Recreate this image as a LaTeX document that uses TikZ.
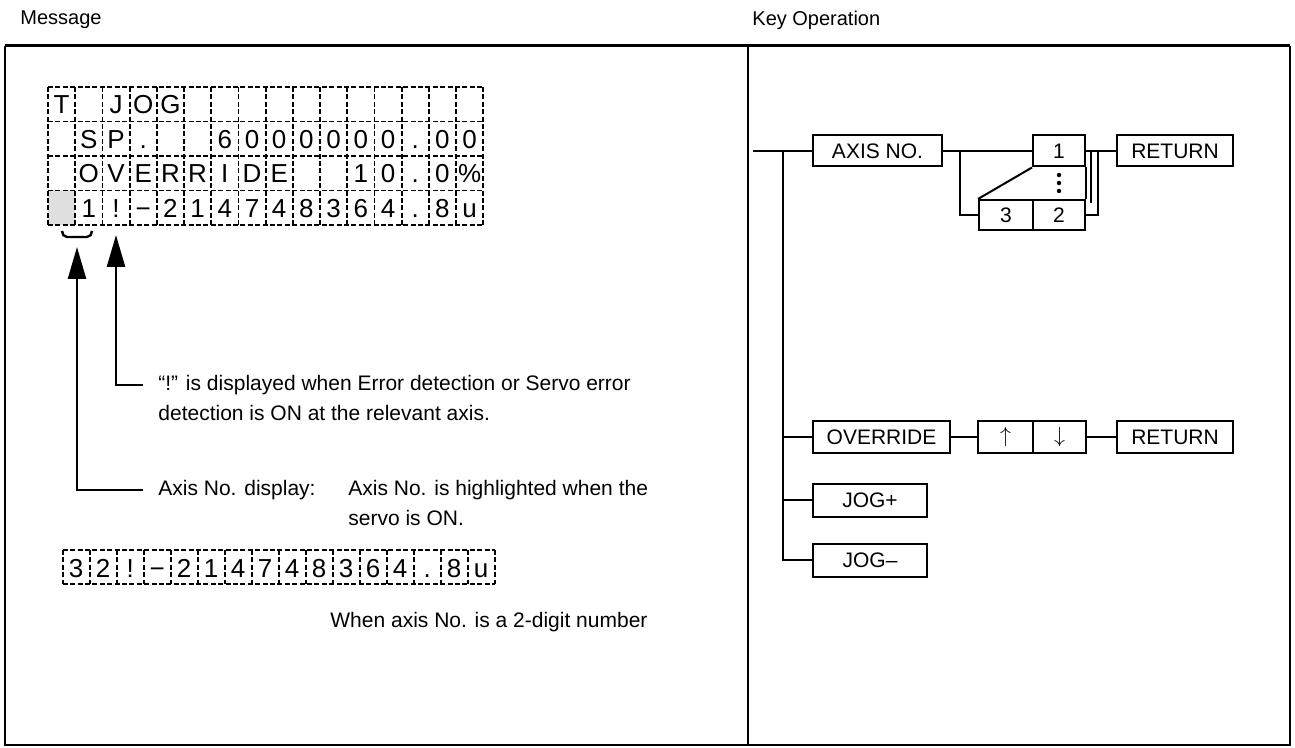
\documentclass[tikz,border=0pt]{standalone}
\usepackage{fontspec}
\setmainfont{Liberation Sans}
\usetikzlibrary{positioning, arrows.meta, calc}
\tikzset{
  keybox/.style={draw, line width=1pt, minimum height=15.5pt, inner sep=0pt,
    font=\fontsize{10.5}{12}\selectfont},
  lcdline/.style={line width=0.9pt, dash pattern=on 2.5pt off 1.2pt},
  lcdchar/.style={font=\fontsize{13}{15}\selectfont, inner sep=0pt, anchor=base},
  note/.style={font=\fontsize{10.5}{12}\selectfont, inner xsep=7.5pt, inner ysep=0pt, anchor=west},
  header/.style={font=\fontsize{10}{12}\selectfont, inner sep=0pt, anchor=west},
  wire/.style={line width=1pt},
  pointer/.style={line width=1.3pt, -{Triangle[length=16pt, width=9pt]}}
}

\begin{document}
\begin{tikzpicture}[x=0.5pt, y=-0.5pt]
  \useasboundingbox (0,0) rectangle (1295,748);

  % Headings and frame
  \node[header] (hmsg) at (20,20) {Message};
  \node[header] (hkey) at (752,20) {Key Operation};
  \draw[line width=1.5pt] (5,46) -- (1290,46);
  \draw[line width=1pt] (5,46) -- (5,745) -- (1290,745) -- (1290,46);
  \draw[line width=1pt] (748,46) -- (748,745);

  % LCD screen, 16 x 4
  \fill[gray!25] (48,190.5) rectangle (75.2,225);
  \foreach \r in {0,...,4}
    \draw[lcdline] (48,87+34.5*\r) -- (483.2,87+34.5*\r);
  \foreach \c in {0,...,16}
    \draw[lcdline] (48+27.2*\c,87) -- (48+27.2*\c,225);
  \foreach \c/\ch in {0/T,2/J,3/O,4/G}
    \node[lcdchar] at (61.6+27.2*\c,114) {\ch};
  \foreach \c/\ch in {1/S,2/P,3/.,6/6,7/0,8/0,9/0,10/0,11/0,12/0,13/.,14/0,15/0}
    \node[lcdchar] at (61.6+27.2*\c,148.5) {\ch};
  \foreach \c/\ch in {1/O,2/V,3/E,4/R,5/R,6/I,7/D,8/E,11/1,12/0,13/.,14/0,15/\%}
    \node[lcdchar] at (61.6+27.2*\c,183) {\ch};
  \foreach \c/\ch in {1/1,2/!,3/−,4/2,5/1,6/4,7/7,8/4,9/8,10/3,11/6,12/4,13/.,14/8,15/u}
    \node[lcdchar] at (61.6+27.2*\c,217.5) {\ch};

  % brace under the axis number
  \draw[line width=1.2pt] (62,231) to[out=-90, in=180] (67,237) -- (87,237)
    to[out=0, in=-90] (92,231);

  % notes with pointers
  \coordinate (tiperr) at (116,235);
  \coordinate (tipaxis) at (77,247);
  \node[note] (err1) at (143,385) {``!'' is displayed when Error detection or Servo error};
  \node[note] (err2) at (143,413) {detection is ON at the relevant axis.};
  \node[note] (axis1) at (143,490) {Axis No. display:};
  \node[note] (axis2) at (333,490) {Axis No. is highlighted when the};
  \node[note] (axis3) at (333,517.5) {servo is ON.};
  \draw[pointer] (err1.west) -| (tiperr);
  \draw[pointer] (axis1.west) -| (tipaxis);

  % 2-digit example line
  \foreach \c in {0,...,16}
    \draw[lcdline] (62.7+27*\c,550) -- (62.7+27*\c,584);
  \draw[lcdline] (62.7,550) -- (494.7,550);
  \draw[lcdline] (62.7,584) -- (494.7,584);
  \foreach \c/\ch in {0/3,1/2,2/!,3/−,4/2,5/1,6/4,7/7,8/4,9/8,10/3,11/6,12/4,13/.,14/8,15/u}
    \node[lcdchar] at (76.2+27*\c,577) {\ch};
  \node[note] (twodigit) at (315,622) {When axis No. is a 2-digit number};

  % Key operation
  \node[keybox, minimum width=64.5pt] (axisno) at (877.5,151) {AXIS NO.};
  \node[keybox, minimum width=26pt] (k1) at (1059,151) {1};
  \node[keybox, minimum width=27pt, minimum height=15pt] (k3) at (1006,215) {3};
  \node[keybox, minimum width=26pt, minimum height=15pt] (k2) at (1059,215) {2};
  \node[keybox, minimum width=58pt] (ret1) at (1175,151) {RETURN};
  \node[keybox, minimum width=68.5pt, minimum height=16pt] (override) at (881.5,437) {OVERRIDE};
  \node[keybox, minimum width=27.5pt, minimum height=16pt] (kup) at (1005.5,437) {$\uparrow$};
  \node[keybox, minimum width=26.5pt, minimum height=16pt] (kdown) at (1059.5,437) {$\downarrow$};
  \node[keybox, minimum width=58pt, minimum height=16pt] (ret2) at (1175,437) {RETURN};
  \node[keybox, minimum width=57pt, minimum height=16.5pt] (jogp) at (870,500) {JOG+};
  \node[keybox, minimum width=57pt, minimum height=16.5pt] (jogm) at (870,560) {JOG\textendash};

  % the "..." part between 1 and 2/3
  \draw[wire] (k1.south east) -- (k2.north east);
  \draw[wire] (k1.south west) -- (k3.north west);
  \foreach \yy in {175,183,191}
    \fill (1059,\yy) circle (1.1pt);

  \coordinate (entry) at (753,151);
  \coordinate (trunk) at (783,151);
  \coordinate (split) at (960,151);
  \coordinate (merge) at (1098,151);
  \coordinate (mergein) at (1091,151);
  \draw[wire] (entry) -- (axisno.west);
  \draw[wire] (trunk) |- (jogm.west);
  \draw[wire] (trunk |- override.west) -- (override.west);
  \draw[wire] (trunk |- jogp.west) -- (jogp.west);
  \draw[wire] (axisno.east) -- (k1.west);
  \draw[wire] (split) |- (k3.west);
  \draw[wire] (k1.east) -- (ret1.west);
  \draw[wire] (k2.east) -| (merge);
  \draw[wire] (mergein) -- ++(0,52);
  \draw[wire] (override.east) -- (kup.west);
  \draw[wire] (kdown.east) -- (ret2.west);
\end{tikzpicture}
\end{document}
